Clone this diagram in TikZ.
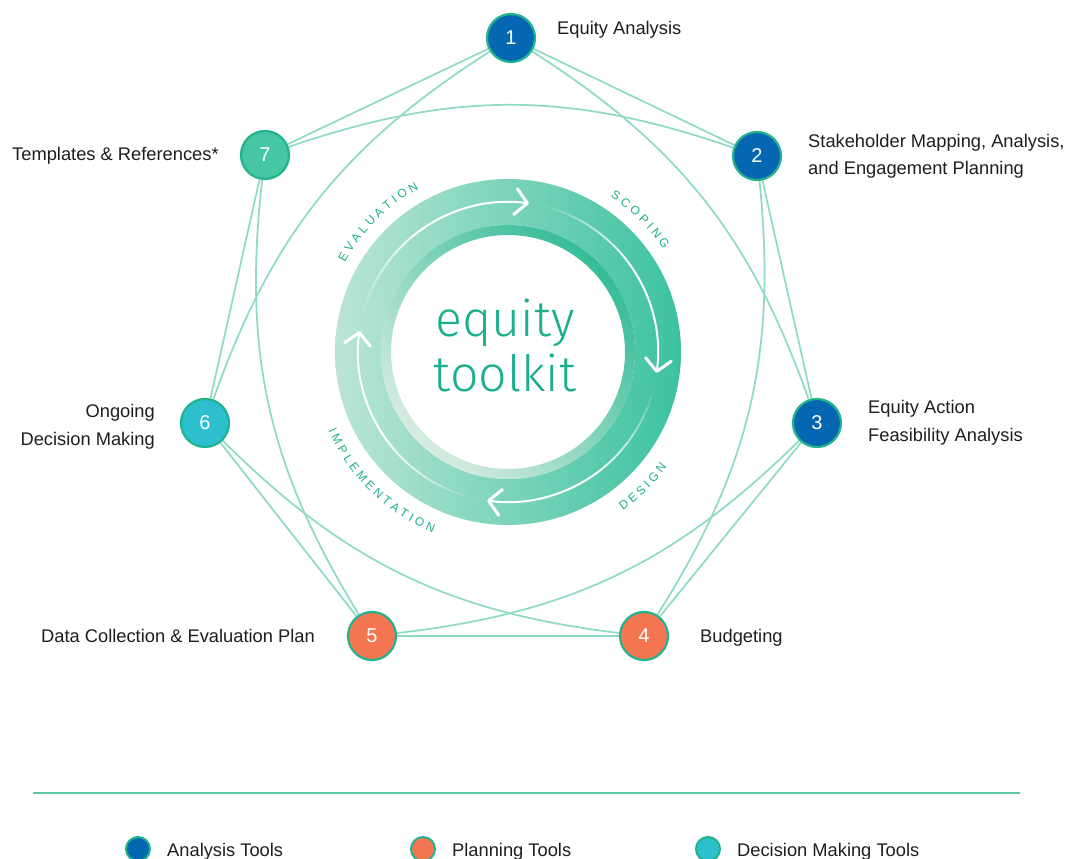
\documentclass[tikz,border=0pt]{standalone}
\usepackage{fontspec}
\setmainfont{Liberation Sans}
\newfontfamily\lightfont{Fira Sans Light}
\usetikzlibrary{calc,arrows.meta,decorations.text,backgrounds}
\definecolor{anblue}{HTML}{0567B2}
\definecolor{plorange}{HTML}{F37651}
\definecolor{dmcyan}{HTML}{2CBFCE}
\definecolor{tplmint}{HTML}{47C6A3}
\definecolor{nodeborder}{HTML}{21B38E}
\definecolor{edgecol}{HTML}{8EDAC6}
\definecolor{ringlight}{HTML}{BBE5D6}
\definecolor{ringdark}{HTML}{3CC2A0}
\definecolor{innerdark}{HTML}{35BC97}
\definecolor{innerlight}{HTML}{D6ECE1}
\definecolor{tealtext}{HTML}{1BB08B}
\definecolor{labeltext}{HTML}{1E1E1E}
\definecolor{ruleline}{HTML}{5CC9A7}
\newcommand\ringfont{\fontsize{12}{12}\selectfont\color{tealtext}}
\tikzset{
  tool/.style={circle, draw=nodeborder, line width=2.2pt, minimum size=48pt, inner sep=0pt,
    text=white, font=\fontsize{20}{20}\selectfont},
  legdot/.style={circle, draw=nodeborder, line width=2pt, minimum size=24pt, inner sep=0pt},
  lbl/.style={inner sep=0pt, text=labeltext, font=\fontsize{18.3}{18.3}\selectfont},
  edge/.style={draw=edgecol, line width=1.7pt},
  cedge/.style={draw=edgecol, line width=1.7pt, bend left=19},
  ringarc/.style={draw=white, line width=2pt},
  ringtip/.style={-{Straight Barb[length=12pt,width=26pt,line width=3pt,round]}},
}
\begin{document}
\begin{tikzpicture}[x=1pt,y=1pt]
\useasboundingbox (0,0) rectangle (1072,859);
\coordinate (ring) at (508,507);

% tool nodes
\node[tool, fill=anblue]   (n1) at (511,821) {1};
\node[tool, fill=anblue]   (n2) at (757,703) {2};
\node[tool, fill=anblue]   (n3) at (817,436) {3};
\node[tool, fill=plorange] (n4) at (644,223) {4};
\node[tool, fill=plorange] (n5) at (372,223) {5};
\node[tool, fill=dmcyan]   (n6) at (205,436) {6};
\node[tool, fill=tplmint]  (n7) at (265,704) {7};

\begin{scope}[on background layer]
  \fill[white] (0,0) rectangle (1072,859);
  % heptagon edges
  \draw[edge] (n1) -- (n2);
  \draw[edge] (n2) -- (n3);
  \draw[edge] (n3) -- (n4);
  \draw[edge] (n4) -- (n5);
  \draw[edge] (n5) -- (n6);
  \draw[edge] (n6) -- (n7);
  \draw[edge] (n7) -- (n1);
  % skip-two curved edges
  \draw[cedge] (n1) to (n3);
  \draw[cedge] (n2) to (n4);
  \draw[cedge] (n3) to (n5);
  \draw[cedge] (n4) to (n6);
  \draw[cedge] (n5) to (n7);
  \draw[cedge] (n6) to (n1);
  \draw[cedge] (n7) to (n2);
\end{scope}

% ring
\shade[even odd rule, left color=ringlight, right color=ringdark]
  (ring) circle[radius=173] (ring) circle[radius=127];
\shade[even odd rule, top color=innerdark, bottom color=innerlight, shading angle=-45]
  (ring) circle[radius=127] (ring) circle[radius=117];

% white arrows in the ring
\foreach \t in {82,-8,-98,-188} {
  \foreach \i in {0,...,9} {
    \pgfmathsetmacro\op{0.05+0.095*\i}
    \pgfmathsetmacro\sa{\t+85-\i*4}
    \pgfmathsetmacro\ea{\t+81-\i*4}
    \draw[ringarc, draw opacity=\op] ($(ring)+(\sa:150)$) arc[start angle=\sa, end angle=\ea, radius=150];
  }
  \draw[ringarc, ringtip] ($(ring)+(\t+45:150)$) arc[start angle=\t+45, end angle=\t, radius=150];
}

% ring labels
\path[decorate, decoration={text along path, text align=center,
  text={|\ringfont|E V A L U A T I O N}}]
  ($(ring)+(175:186)$) arc[start angle=175, end angle=95, radius=186];
\path[decorate, decoration={text along path, text align=center,
  text={|\ringfont|S C O P I N G}}]
  ($(ring)+(85:186)$) arc[start angle=85, end angle=5, radius=186];
\path[decorate, decoration={text along path, text align=center,
  text={|\ringfont|D E S I G N}}]
  ($(ring)+(-85:196)$) arc[start angle=-85, end angle=-5, radius=196];
\path[decorate, decoration={text along path, text align=center,
  text={|\ringfont|I M P L E M E N T A T I O N}}]
  ($(ring)+(-175:196)$) arc[start angle=-175, end angle=-94, radius=196];

% centre title
\node[inner sep=0pt, anchor=base, text=tealtext, font=\lightfont\fontsize{50}{50}\selectfont] (t1) at (505,522) {equity};
\node[inner sep=0pt, anchor=base, text=tealtext, font=\lightfont\fontsize{50}{50}\selectfont] (t2) at (505,467) {toolkit};

% labels
\node[lbl, anchor=base west] (l1) at (557,824) {Equity Analysis};
\node[lbl, anchor=base west] (l2a) at (808,711) {Stakeholder Mapping, Analysis,};
\node[lbl, anchor=base west] (l2b) at (808,684) {and Engagement Planning};
\node[lbl, anchor=base west] (l3a) at (868,445) {Equity Action};
\node[lbl, anchor=base west] (l3b) at (868,417) {Feasibility Analysis};
\node[lbl, anchor=base west] (l4) at (700,216) {Budgeting};
\node[lbl, anchor=base east] (l5) at (315,216) {Data Collection \& Evaluation Plan};
\node[lbl, anchor=base east] (l6a) at (155,441) {Ongoing};
\node[lbl, anchor=base east] (l6b) at (155,413) {Decision Making};
\node[lbl, anchor=base west] (l7) at (12,698) {Templates \& References*};

% legend
\coordinate (rl) at (33,66);
\coordinate (rr) at (1020,66);
\draw[draw=ruleline, line width=1.2pt] (rl) -- (rr);
\node[legdot, fill=anblue]   (d1) at (138,10) {};
\node[legdot, fill=plorange] (d2) at (423,10) {};
\node[legdot, fill=dmcyan]   (d3) at (708,10) {};
\node[lbl, anchor=base west] (g1) at (167,2) {Analysis Tools};
\node[lbl, anchor=base west] (g2) at (452,2) {Planning Tools};
\node[lbl, anchor=base west] (g3) at (737,2) {Decision Making Tools};
\end{tikzpicture}
\end{document}
